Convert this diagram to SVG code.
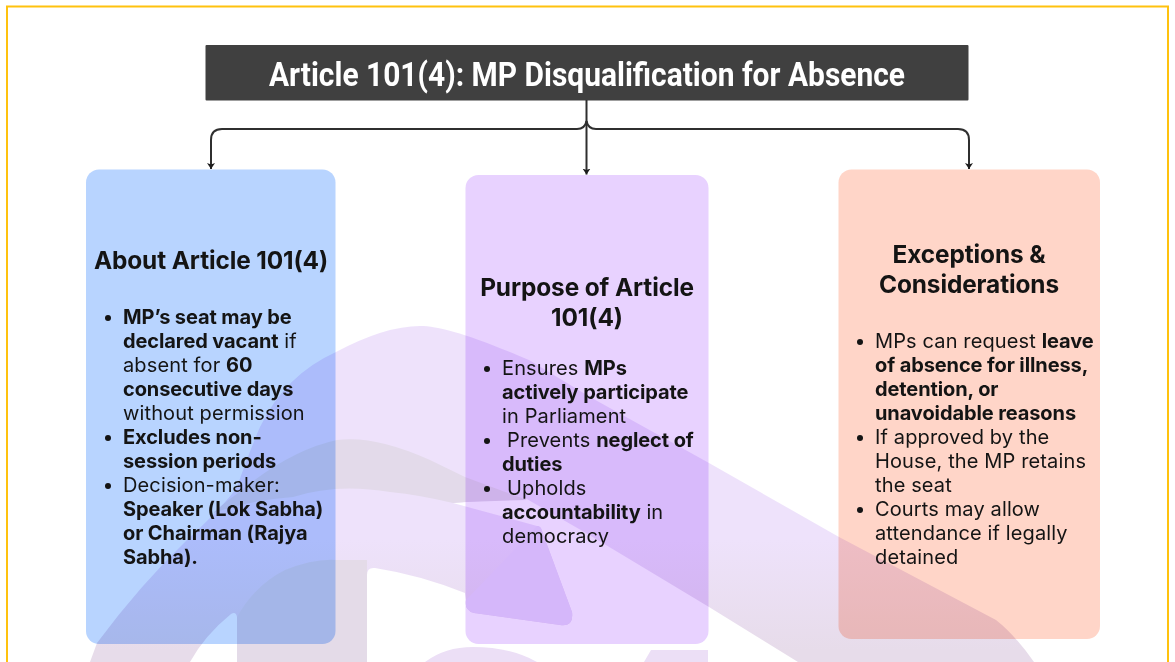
<svg xmlns="http://www.w3.org/2000/svg" width="1175" height="662" viewBox="0 0 1175 662">
<defs>
<style>
text{font-family:"Inter","Liberation Sans",sans-serif;fill:#141414}
.h{font-size:24.400px;font-weight:700;text-anchor:middle;letter-spacing:-.1px}
.b{font-size:20px;letter-spacing:.13px}
.s{font-weight:700;letter-spacing:-.1px}
.c{fill:none;stroke:#2f2f2f;stroke-width:2}
.bul{fill:#141414}
</style>
<marker id="ah" markerUnits="userSpaceOnUse" markerWidth="8" markerHeight="9" refX="6" refY="4.500" orient="auto"><path d="M0 .5L6 4.500L0 8.500L1.500 4.500Z" fill="#1c1c1c"/></marker>
<linearGradient id="lg" x1="0" y1="540" x2="0" y2="650" gradientUnits="userSpaceOnUse"><stop offset="0" stop-color="#eee2fb"/><stop offset="1" stop-color="#e7dcea"/></linearGradient>
</defs>
<rect width="1175" height="662" fill="#fff"/>
<rect x="7" y="6.500" width="1161" height="700" fill="none" stroke="#ffc20e" stroke-width="2"/>
<g id="node-about"><rect x="86" y="169.500" width="249.500" height="474.500" rx="13" fill="#b8d4ff"/></g>
<g id="node-purpose"><rect x="465.500" y="175" width="243" height="469" rx="13" fill="#e8d2ff"/></g>
<g id="node-exceptions"><rect x="838.500" y="169.500" width="261.500" height="469.500" rx="13" fill="#ffd5c8"/></g>
<g id="watermark" style="mix-blend-mode:multiply">
<path fill="url(#lg)" d="M90 662L97 643Q140 585 187 540Q225 505 237 487Q250 450 260 427Q285 375 336 352Q385 326 420 326C440 326 470 335 529 360L590 397L709 463L839 537L996 620Q1015 635 1034 662L798 662L709 607L586 533L525 498L453 503L537 526Q541 526 542 531L572 612Q574 627 560 625L474 613Q464 610 466 600L465 593Q420 575 375 568Q367 567 367 575L367 662L237 662L237 617Q236 611 231 614Q205 635 190 662Z"/>
<path fill="#e3daea" d="M213 513Q225 502 238 493Q290 450 337 440Q375 435 430 460L465 477L527 500L465 502L453 503Q420 495 390 492Q336 483 293 497Q250 500 213 513Z"/>
<path fill="#e4dbe8" d="M237 617Q255 585 285 570Q315 558 337 560L367 560L367 662L237 662Z"/>
<path fill="#ebdefa" d="M537 526Q541 526 542 531L572 612Q574 627 560 625L474 613Q464 610 466 600Z"/>
<path fill="#ecdff6" d="M425 662Q445 647 473 647Q510 647 537 662Z"/>
<path fill="#ecdff6" d="M644 662L651 650L708 650L708 662Z"/>
</g>
<g id="node-title"><rect x="205.500" y="45" width="763" height="55.500" rx="1" fill="#404040"/>
<text x="587" y="86" text-anchor="middle" textLength="636" lengthAdjust="spacingAndGlyphs" style="font-family:Roboto,'Liberation Sans',sans-serif;font-size:33px;font-weight:700;fill:#fff">Article 101(4): MP Disqualification for Absence</text></g>
<g id="connectors">
<path class="c" marker-end="url(#ah)" d="M586.500 100V174.500"/>
<path class="c" marker-end="url(#ah)" d="M586.500 121Q585 129 577 129H222Q211 129 211 140V169"/>
<path class="c" marker-end="url(#ah)" d="M586.500 121Q588 129 596 129H958Q969 129 969 140V169"/>
</g>
<g id="about-text" transform="translate(0 1)">
<text class="h" x="211" y="268">About Article 101(4)</text>
<circle class="bul" cx="108" cy="317" r="3"/><circle class="bul" cx="108" cy="437" r="3"/><circle class="bul" cx="108" cy="485" r="3"/>
<text class="b" x="123" y="323"><tspan class="s">MP’s seat may be</tspan></text>
<text class="b" x="123" y="347"><tspan class="s">declared vacant</tspan> if</text>
<text class="b" x="123" y="371">absent for <tspan class="s">60</tspan></text>
<text class="b" x="123" y="395"><tspan class="s">consecutive days</tspan></text>
<text class="b" x="123" y="419">without permission</text>
<text class="b" x="123" y="443"><tspan class="s">Excludes non-</tspan></text>
<text class="b" x="123" y="467"><tspan class="s">session periods</tspan></text>
<text class="b" x="123" y="491">Decision-maker:</text>
<text class="b" x="123" y="515"><tspan class="s">Speaker (Lok Sabha)</tspan></text>
<text class="b" x="123" y="539"><tspan class="s">or Chairman (Rajya</tspan></text>
<text class="b" x="123" y="563"><tspan class="s">Sabha).</tspan></text>
</g>
<g id="purpose-text" transform="translate(0 1)">
<text class="h" x="587" y="295">Purpose of Article</text>
<text class="h" x="587" y="325">101(4)</text>
<circle class="bul" cx="487" cy="368" r="3"/><circle class="bul" cx="487" cy="440" r="3"/><circle class="bul" cx="487" cy="488" r="3"/>
<text class="b" x="502" y="374">Ensures <tspan class="s">MPs</tspan></text>
<text class="b" x="502" y="398"><tspan class="s">actively participate</tspan></text>
<text class="b" x="502" y="422">in Parliament</text>
<text class="b" x="507" y="446">Prevents <tspan class="s">neglect of</tspan></text>
<text class="b" x="502" y="470"><tspan class="s">duties</tspan></text>
<text class="b" x="507" y="494">Upholds</text>
<text class="b" x="502" y="518"><tspan class="s">accountability</tspan> in</text>
<text class="b" x="502" y="542">democracy</text>
</g>
<g id="exceptions-text" transform="translate(0 1)">
<text class="h" x="969" y="262">Exceptions &amp;</text>
<text class="h" x="969" y="292">Considerations</text>
<circle class="bul" cx="860" cy="341" r="3"/><circle class="bul" cx="860" cy="437" r="3"/><circle class="bul" cx="860" cy="509" r="3"/>
<text class="b" x="875" y="347">MPs can request <tspan class="s">leave</tspan></text>
<text class="b" x="875" y="371"><tspan class="s">of absence for illness,</tspan></text>
<text class="b" x="875" y="395"><tspan class="s">detention, or</tspan></text>
<text class="b" x="875" y="419"><tspan class="s">unavoidable reasons</tspan></text>
<text class="b" x="875" y="443">If approved by the</text>
<text class="b" x="875" y="467">House, the MP retains</text>
<text class="b" x="875" y="491">the seat</text>
<text class="b" x="875" y="515">Courts may allow</text>
<text class="b" x="875" y="539">attendance if legally</text>
<text class="b" x="875" y="563">detained</text>
</g>
</svg>
